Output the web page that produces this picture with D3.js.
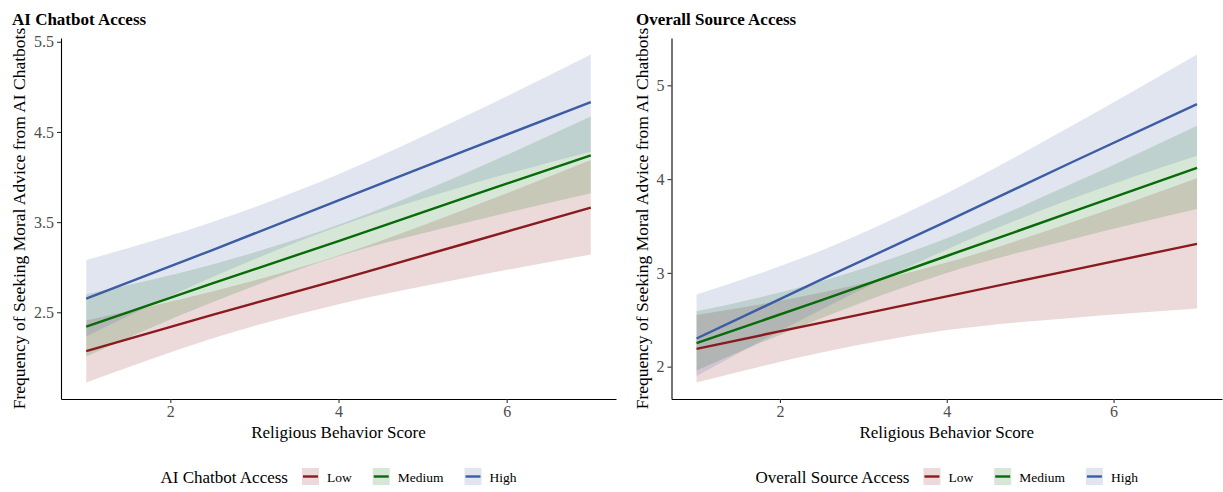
<!DOCTYPE html>
<html>
<head>
<meta charset="utf-8">
<script src="https://cdn.jsdelivr.net/npm/d3@7"></script>
<style>
  html, body { margin: 0; padding: 0; background: #fff; }
  svg { display: block; font-family: "Liberation Serif", "Times New Roman", serif; }
</style>
</head>
<body>
<svg id="chart" width="1223" height="492"></svg>
<script>
'use strict';

// Predicted frequency of seeking moral advice from AI chatbots,
// by religious behaviour score, split by access level (two panels).

const X_VALUES = [1, 2.5, 4, 5.5, 7];
const LEVELS = ['Low', 'Medium', 'High'];

// AI Chatbot Access panel
const chatLowFit = [2.07, 2.47, 2.86, 3.26, 3.66];
const chatLowLower = [1.72, 2.21, 2.59, 2.88, 3.14];
const chatLowUpper = [2.41, 2.73, 3.13, 3.64, 4.19];
const chatMedFit = [2.34, 2.82, 3.29, 3.77, 4.24];
const chatMedLower = [2.01, 2.61, 3.12, 3.49, 3.82];
const chatMedUpper = [2.70, 3.03, 3.47, 4.04, 4.67];
const chatHighFit = [2.65, 3.19, 3.74, 4.29, 4.83];
const chatHighLower = [2.23, 2.89, 3.45, 3.90, 4.28];
const chatHighUpper = [3.08, 3.50, 4.03, 4.67, 5.36];

// Overall Source Access panel
const srcLowFit = [2.19, 2.47, 2.75, 3.03, 3.31];
const srcLowLower = [1.83, 2.15, 2.39, 2.52, 2.62];
const srcLowUpper = [2.55, 2.79, 3.11, 3.54, 4.01];
const srcMedFit = [2.25, 2.71, 3.18, 3.65, 4.12];
const srcMedLower = [1.96, 2.52, 3.00, 3.36, 3.68];
const srcMedUpper = [2.59, 2.91, 3.37, 3.95, 4.57];
const srcHighFit = [2.30, 2.93, 3.55, 4.18, 4.80];
const srcHighLower = [1.90, 2.61, 3.25, 3.79, 4.25];
const srcHighUpper = [2.77, 3.24, 3.85, 4.57, 5.33];

const X_TICKS = [2, 4, 6];
const CHAT_Y_TICKS = [2.5, 3.5, 4.5, 5.5];
const SRC_Y_TICKS = [2, 3, 4, 5];

const COLORS = { Low: '#8b1a1f', Medium: '#076b07', High: '#3c5ca3' };
const BAND_OPACITY = 0.16;

const svg = d3.select('#chart');

function series(fits, lowers, uppers) {
	return LEVELS.map((level, i) => ({
		level,
		points: X_VALUES.map((x, j) => ({ x, fit: fits[i][j], lo: lowers[i][j], hi: uppers[i][j] }))
	}));
}

const panels = [
	{
		title: 'AI Chatbot Access',
		left: 61, right: 616, titleX: 12, ylabX: 25,
		yTicks: CHAT_Y_TICKS,
		data: series([chatLowFit, chatMedFit, chatHighFit],
			[chatLowLower, chatMedLower, chatHighLower],
			[chatLowUpper, chatMedUpper, chatHighUpper])
	},
	{
		title: 'Overall Source Access',
		left: 671.5, right: 1222, titleX: 636, ylabX: 648,
		yTicks: SRC_Y_TICKS,
		data: series([srcLowFit, srcMedFit, srcHighFit],
			[srcLowLower, srcMedLower, srcHighLower],
			[srcLowUpper, srcMedUpper, srcHighUpper])
	}
];

const TOP = 38, BOTTOM = 399;

function expand(lo, hi) {
	const pad = (hi - lo) * 0.05;
	return [lo - pad, hi + pad];
}

function drawPanel(p) {
	const allLo = d3.min(p.data, s => d3.min(s.points, d => d.lo));
	const allHi = d3.max(p.data, s => d3.max(s.points, d => d.hi));
	const x = d3.scaleLinear().domain(expand(1, 7)).range([p.left, p.right]);
	const y = d3.scaleLinear().domain(expand(allLo, allHi)).range([BOTTOM, TOP]);

	const g = svg.append('g');

	const band = d3.area()
		.x(d => x(d.x)).y0(d => y(d.lo)).y1(d => y(d.hi))
		.curve(d3.curveMonotoneX);
	const line = d3.line().x(d => x(d.x)).y(d => y(d.fit));

	g.selectAll('path.band').data(p.data).join('path')
		.attr('class', 'band')
		.attr('d', s => band(s.points))
		.attr('fill', s => COLORS[s.level])
		.attr('fill-opacity', BAND_OPACITY);

	g.selectAll('path.fit').data(p.data).join('path')
		.attr('class', 'fit')
		.attr('d', s => line(s.points))
		.attr('fill', 'none')
		.attr('stroke', s => COLORS[s.level])
		.attr('stroke-width', 2.4);

	const xAxis = g.append('g')
		.attr('transform', `translate(0,${BOTTOM})`)
		.call(d3.axisBottom(x).tickValues(X_TICKS).tickFormat(d3.format('d'))
			.tickSize(4).tickSizeOuter(0).tickPadding(3));
	const yAxis = g.append('g')
		.attr('transform', `translate(${p.left},0)`)
		.call(d3.axisLeft(y).tickValues(p.yTicks).tickFormat(d => String(d))
			.tickSize(4).tickSizeOuter(0).tickPadding(3));

	[xAxis, yAxis].forEach(a => {
		a.select('.domain').attr('stroke', '#000').attr('stroke-width', 1.1);
		a.selectAll('.tick line').attr('stroke', '#333').attr('stroke-width', 1.1);
		a.selectAll('.tick text')
			.attr('fill', '#4d4d4d')
			.style('font-size', '16px')
			.style('font-family', '"Liberation Serif", serif');
	});

	svg.append('text')
		.attr('x', p.titleX).attr('y', 25)
		.style('font-size', '17px').style('font-weight', 'bold')
		.text(p.title);

	svg.append('text')
		.attr('x', (p.left + p.right) / 2).attr('y', 438)
		.attr('text-anchor', 'middle')
		.style('font-size', '17px')
		.text('Religious Behavior Score');

	svg.append('text')
		.attr('transform', `translate(${p.ylabX},${(TOP + BOTTOM) / 2}) rotate(-90)`)
		.attr('text-anchor', 'middle')
		.style('font-size', '17.5px')
		.text('Frequency of Seeking Moral Advice from AI Chatbots');

	drawLegend(p.title, (p.left + p.right) / 2);
}

function drawLegend(title, centerX) {
	const KEY = 17, keyY = 468, textY = 483;
	const lg = svg.append('g');
	const t = lg.append('text').attr('y', textY).style('font-size', '17px').text(title);
	let cursor = t.node().getComputedTextLength() + 14;
	LEVELS.forEach((level, i) => {
		lg.append('rect')
			.attr('x', cursor).attr('y', keyY).attr('width', KEY).attr('height', KEY)
			.attr('fill', COLORS[level]).attr('fill-opacity', BAND_OPACITY);
		lg.append('line')
			.attr('x1', cursor + 1).attr('x2', cursor + KEY - 1)
			.attr('y1', keyY + KEY / 2).attr('y2', keyY + KEY / 2)
			.attr('stroke', COLORS[level]).attr('stroke-width', 2.4);
		cursor += KEY + 8;
		const lbl = lg.append('text').attr('x', cursor).attr('y', textY - 1)
			.style('font-size', '13.5px').text(level);
		cursor += lbl.node().getComputedTextLength() + (i < LEVELS.length - 1 ? 21 : 0);
	});
	lg.attr('transform', `translate(${centerX - cursor / 2},0)`);
}

panels.forEach(drawPanel);
</script>
</body>
</html>
